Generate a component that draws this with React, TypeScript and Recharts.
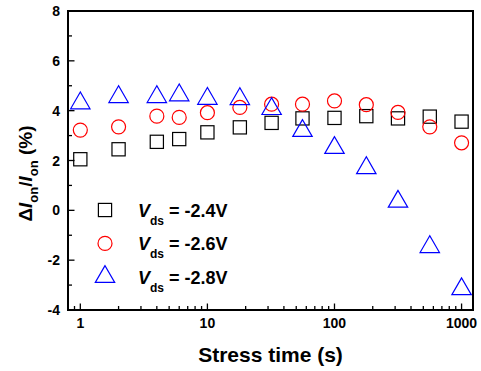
import { Legend, ReferenceArea, Scatter, ScatterChart, XAxis, YAxis } from "recharts";

// stress time (s), log spaced
const stressTime = [1, 2, 4, 6, 10, 18, 32, 56, 100, 178, 316, 562, 1000];

// delta Ion / Ion (%)
const vds24 = [2.05, 2.45, 2.75, 2.86, 3.13, 3.33, 3.51, 3.69, 3.71, 3.78, 3.69, 3.76, 3.56];
const vds26 = [3.22, 3.35, 3.78, 3.73, 3.92, 4.13, 4.26, 4.26, 4.39, 4.24, 3.93, 3.35, 2.71];
const vds28 = [4.3, 4.55, 4.55, 4.62, 4.48, 4.47, 4.07, 3.19, 2.51, 1.7, 0.35, -1.47, -3.16];

const seriesNames = ["-2.4V", "-2.6V", "-2.8V"];

const xMajor = [1, 10, 100, 1000];
const xMinorSteps = [2, 3, 4, 5, 6, 7, 8, 9];
const yTicks = [-4, -3, -2, -1, 0, 1, 2, 3, 4, 5, 6, 7, 8];
const yLabelTicks = [-4, -2, 0, 2, 4, 6, 8];

const FONT = "'Liberation Sans', Arial, Helvetica, sans-serif";

const xTicks: number[] = [0.9];
xMajor.forEach((m, i) => {
  xTicks.push(m);
  if (i < xMajor.length - 1) xMinorSteps.forEach((s) => xTicks.push(m * s));
});

const toPoints = (vals: number[]) => stressTime.map((t, i) => ({ t, v: vals[i] }));

const Square = ({ cx, cy }: any) => (
  <rect x={cx - 6.6} y={cy - 6.6} width={13.2} height={13.2} fill="none" stroke="#000" strokeWidth={1.2} />
);
const Ring = ({ cx, cy }: any) => <circle cx={cx} cy={cy} r={7} fill="none" stroke="#ff0000" strokeWidth={1.2} />;
const Tri = ({ cx, cy }: any) => (
  <polygon
    points={`${cx},${cy - 11.2} ${cx - 9.7},${cy + 5.6} ${cx + 9.7},${cy + 5.6}`}
    fill="none"
    stroke="#0000ff"
    strokeWidth={1.2}
  />
);

const series = [
  { name: seriesNames[0], data: toPoints(vds24), Shape: Square },
  { name: seriesNames[1], data: toPoints(vds26), Shape: Ring },
  { name: seriesNames[2], data: toPoints(vds28), Shape: Tri },
];

function XTick({ x, y, payload }: any) {
  const v = payload.value;
  const lg = Math.log10(v);
  const major = Math.abs(lg - Math.round(lg)) < 1e-6;
  return (
    <g>
      <line x1={x} y1={y} x2={x} y2={y - (major ? 6.5 : 4)} stroke="#000" strokeWidth={1.3} />
      {major && (
        <text x={x} y={y + 17.5} textAnchor="middle" fontFamily={FONT} fontWeight="bold" fontSize={14} fill="#000">
          {v}
        </text>
      )}
    </g>
  );
}

function YTick({ x, y, payload }: any) {
  const v = payload.value;
  const major = yLabelTicks.includes(v);
  return (
    <g>
      <line x1={x} y1={y} x2={x + (major ? 6.5 : 4)} y2={y} stroke="#000" strokeWidth={1.3} />
      {major && (
        <text x={x - 8} y={y + 5} textAnchor="end" fontFamily={FONT} fontWeight="bold" fontSize={14} fill="#000">
          {v}
        </text>
      )}
    </g>
  );
}

function YTitle({ viewBox }: any) {
  const vb = viewBox || { x: 0, y: 11, width: 68, height: 299 };
  const cx = vb.x + 32;
  const cy = vb.y + vb.height / 2 + 13;
  return (
    <text
      x={cx}
      y={cy}
      transform={`rotate(-90 ${cx} ${cy})`}
      textAnchor="middle"
      fontFamily={FONT}
      fontWeight="bold"
      fontSize={19}
      fill="#000"
      style={{ whiteSpace: "pre" }}
    >
      <tspan>Δ</tspan>
      <tspan fontStyle="italic">I</tspan>
      <tspan fontSize={13} dy={6}>on</tspan>
      <tspan dy={-6}>/</tspan>
      <tspan fontStyle="italic">I</tspan>
      <tspan fontSize={13} dy={6}>on</tspan>
      <tspan dy={-6}> (%)</tspan>
    </text>
  );
}

function XTitle({ viewBox }: any) {
  const vb = viewBox || { x: 68, y: 310, width: 405, height: 61 };
  return (
    <text
      x={vb.x + vb.width / 2}
      y={vb.y + 51.5}
      textAnchor="middle"
      fontFamily={FONT}
      fontWeight="bold"
      fontSize={21}
      fill="#000"
    >
      Stress time (s)
    </text>
  );
}

function LegendBox({ payload }: any) {
  const items = (payload && payload.length ? payload.map((p: any) => p.value) : seriesNames) as string[];
  return (
    <svg width={170} height={110} style={{ display: "block", overflow: "visible" }}>
      {items.map((name, i) => {
        const s = series.find((d) => d.name === name) || series[i];
        const Shape = s.Shape;
        const rowY = 20 + 33.4 * i;
        return (
          <g key={name}>
            <Shape cx={17} cy={rowY} />
            <text
              x={50}
              y={rowY + 6.7}
              fontFamily={FONT}
              fontWeight="bold"
              fontSize={18}
              fill="#000"
              style={{ whiteSpace: "pre" }}
            >
              <tspan fontStyle="italic">V</tspan>
              <tspan fontSize={12} dy={8}>ds</tspan>
              <tspan dy={-8}>{` = ${name}`}</tspan>
            </text>
          </g>
        );
      })}
    </svg>
  );
}

export default function App() {
  return (
    <div style={{ position: "absolute", left: 0, top: 0, width: 481, height: 371, background: "#fff" }}>
      <ScatterChart width={481} height={371} margin={{ top: 11, right: 8, bottom: 0, left: 0 }}>
        <XAxis
          type="number"
          dataKey="t"
          scale="log"
          domain={[0.8, 1230]}
          allowDataOverflow
          ticks={xTicks}
          interval={0}
          height={61}
          axisLine={false}
          tickLine={false}
          tickSize={0}
          tickMargin={0}
          tick={<XTick />}
          label={<XTitle />}
        />
        <YAxis
          type="number"
          dataKey="v"
          domain={[-4, 8]}
          allowDataOverflow
          ticks={yTicks}
          interval={0}
          width={68}
          axisLine={false}
          tickLine={false}
          tickSize={0}
          tickMargin={0}
          tick={<YTick />}
          label={<YTitle />}
        />
        <ReferenceArea x1={0.8} x2={1230} y1={-4} y2={8} fill="none" stroke="#000" strokeWidth={2} />
        {series.map((s) => (
          <Scatter
            key={s.name}
            name={s.name}
            data={s.data}
            isAnimationActive={false}
            shape={(p: any) => <s.Shape cx={p.cx} cy={p.cy} />}
          />
        ))}
        <Legend
          layout="horizontal"
          verticalAlign="middle"
          align="center"
          content={<LegendBox />}
          wrapperStyle={{ left: 88, top: 190, width: 170, height: 110 }}
        />
      </ScatterChart>
    </div>
  );
}
